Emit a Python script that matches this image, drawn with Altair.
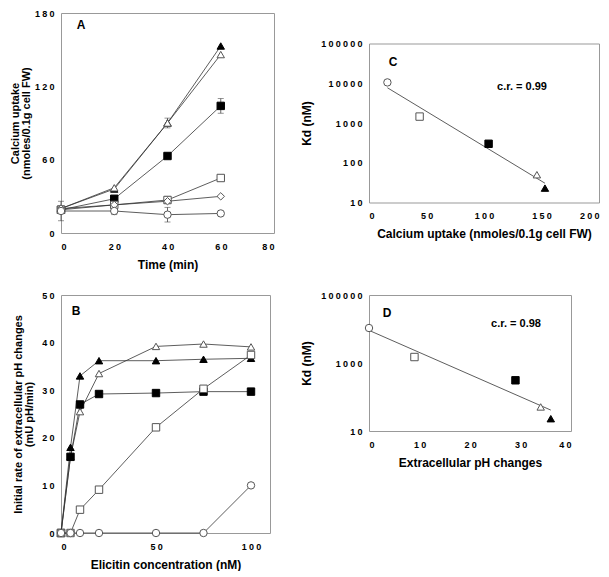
import altair as alt
import pandas as pd

FONT = "Liberation Sans"
LINE = "#333333"
OPEN_STROKE = "#555555"

# ---------------- data ----------------
# marker ids
series_ids = ["ftri", "otri", "fsq", "osq", "odia", "ocirc"]
series_shapes = ["triangle-up", "triangle-up", "square", "square", "diamond", "circle"]
series_fills = ["black", "white", "black", "white", "white", "white"]
series_strokes = ["black", OPEN_STROKE, "black", OPEN_STROKE, OPEN_STROKE, OPEN_STROKE]
series_sizes = [55, 55, 50, 50, 40, 45]

# Panel A: calcium uptake vs time
time_min = [0, 20, 40, 60]
a_values = {
    "ftri": [20, 36, 90, 153],
    "otri": [20, 37, 90, 146],
    "fsq": [19, 28, 63, 104],
    "osq": [19, 23, 27, 45],
    "odia": [20, 23, 26, 30],
    "ocirc": [18, 18, 15, 16],
}
a_errors = {
    "ftri": [0, 0, 0, 0],
    "otri": [0, 0, 4, 0],
    "fsq": [0, 2, 0, 6],
    "osq": [0, 0, 3, 0],
    "odia": [0, 0, 0, 0],
    "ocirc": [8, 3, 6, 0],
}

# Panel B: pH change rate vs elicitin concentration
conc_nm = [0, 5, 10, 20, 50, 75, 100]
b_values = {
    "ftri": [0, 18, 33, 36.2, 36.2, 36.5, 36.7],
    "otri": [0, 16, 25.5, 33.5, 39.2, 39.7, 39.1],
    "fsq": [0, 16, 27, 29.2, 29.4, 29.7, 29.7],
    "osq": [0, 0, 4.9, 9.1, 22.2, 30.3, 37.4],
    "ocirc": [0, 0, 0, 0, 0, 0, 10],
}

# Panel C: Kd vs calcium uptake
c_series = ["ocirc", "osq", "fsq", "otri", "ftri"]
c_uptake = [16, 44, 104, 146, 153]
c_kd = [10500, 1450, 300, 50, 23]

# Panel D: Kd vs extracellular pH changes
d_series = ["ocirc", "osq", "fsq", "otri", "ftri"]
d_ph = [0, 9, 29, 34, 36]
d_kd = [10700, 1500, 310, 51, 23]

# ---------------- frames ----------------
rowsA = []
for s in series_ids:
    for t, v, e in zip(time_min, a_values[s], a_errors[s]):
        rowsA.append({"x": t, "y": v, "err": e, "series": s})
dfA = pd.DataFrame(rowsA)

rowsB = []
for s in ["ftri", "otri", "fsq", "osq", "ocirc"]:
    for c, v in zip(conc_nm, b_values[s]):
        rowsB.append({"x": c, "y": v, "series": s})
dfB = pd.DataFrame(rowsB)

dfC = pd.DataFrame({"x": c_uptake, "y": c_kd, "series": c_series})
dfD = pd.DataFrame({"x": d_ph, "y": d_kd, "series": d_series})

LEXPR = "replace(format(datum.value, 'd'), regexp('([0-9])(?=[0-9])', 'g'), '$1\u2005')"

shape_enc = alt.Shape("series:N", scale=alt.Scale(domain=series_ids, range=series_shapes), legend=None)
fill_enc = alt.Fill("series:N", scale=alt.Scale(domain=series_ids, range=series_fills), legend=None)
stroke_enc = alt.Stroke("series:N", scale=alt.Scale(domain=series_ids, range=series_strokes), legend=None)
size_enc = alt.Size("series:N", scale=alt.Scale(domain=series_ids, range=series_sizes), legend=None)


def xaxis(values, title):
    return alt.Axis(values=values, title=title, labelExpr=LEXPR, labelPadding=9,
                    titlePadding=8)


def yaxis(values, title, tpad, tsize=12):
    return alt.Axis(values=values, title=title, labelExpr=LEXPR, labelPadding=7,
                    titlePadding=tpad, titleLineHeight=11, titleFontSize=tsize)


def points(base, X, Y):
    return base.mark_point(opacity=1, fillOpacity=1, strokeWidth=1).encode(
        x=X, y=Y, shape=shape_enc, fill=fill_enc, stroke=stroke_enc, size=size_enc)


def panel_label(text, px, py):
    return alt.Chart(pd.DataFrame({"t": [text]})).mark_text(
        font=FONT, fontWeight="bold", fontSize=12, color="black").encode(
        text="t:N", x=alt.value(px), y=alt.value(py))


def cr_label(text, px, py):
    return alt.Chart(pd.DataFrame({"t": [text]})).mark_text(
        font=FONT, fontWeight="bold", fontSize=11, color="black").encode(
        text="t:N", x=alt.value(px), y=alt.value(py))


# ---------------- Panel A ----------------
axAx = xaxis([0, 20, 40, 60, 80], "Time (min)")
axAy = yaxis([0, 60, 120, 180], ["Calcium uptake", "(nmoles/0.1g cell FW)"], 3, 11)
scAx = alt.Scale(domain=[0, 80], nice=False)
scAy = alt.Scale(domain=[0, 180], nice=False)
XA = alt.X("x:Q", scale=scAx, axis=axAx)
YA = alt.Y("y:Q", scale=scAy, axis=axAy)
baseA = alt.Chart(dfA)
linesA = baseA.mark_line(color=LINE, strokeWidth=0.8).encode(
    x=XA, y=YA, detail="series:N", order="x:Q")
errA = baseA.transform_filter("datum.err > 0").transform_calculate(
    lo="datum.y - datum.err", hi="datum.y + datum.err")
rulesA = errA.mark_rule(color="#444444", strokeWidth=0.8).encode(
    x=XA, y=alt.Y("lo:Q", scale=scAy, axis=axAy), y2="hi:Q")
capLoA = errA.mark_tick(orient="horizontal", size=6, thickness=0.8, color="#444444").encode(
    x=XA, y=alt.Y("lo:Q", scale=scAy, axis=axAy))
capHiA = errA.mark_tick(orient="horizontal", size=6, thickness=0.8, color="#444444").encode(
    x=XA, y=alt.Y("hi:Q", scale=scAy, axis=axAy))
panelA = alt.layer(linesA, rulesA, capLoA, capHiA, points(baseA, XA, YA),
                   panel_label("A", 20, 12)).properties(width=213, height=220)

# ---------------- Panel B ----------------
XB = alt.X("x:Q", scale=alt.Scale(domain=[0, 110], nice=False),
           axis=xaxis([0, 50, 100], "Elicitin concentration (nM)"))
YB = alt.Y("y:Q", scale=alt.Scale(domain=[0, 50], nice=False),
           axis=yaxis([0, 10, 20, 30, 40, 50],
                      ["Initial rate of extracellular pH changes", "(mU pH/min)"], 7, 11))
baseB = alt.Chart(dfB)
linesB = baseB.mark_line(color=LINE, strokeWidth=0.8).encode(
    x=XB, y=YB, detail="series:N", order="x:Q")
panelB = alt.layer(linesB, points(baseB, XB, YB),
                   panel_label("B", 15, 16)).properties(width=209, height=238)

# ---------------- Panel C ----------------
XC = alt.X("x:Q", scale=alt.Scale(domain=[0, 200], nice=False),
           axis=xaxis([0, 50, 100, 150, 200], "Calcium uptake (nmoles/0.1g cell FW)"))
YC = alt.Y("y:Q", scale=alt.Scale(type="log", domain=[10, 100000], nice=False),
           axis=yaxis([10, 100, 1000, 10000, 100000], "Kd (nM)", 7))
baseC = alt.Chart(dfC)
fitC = baseC.transform_calculate(ly="log(datum.y) / LN10").transform_regression(
    on="x", regression="ly").transform_calculate(y="pow(10, datum.ly)").mark_line(
    color=LINE, strokeWidth=0.8).encode(x=XC, y=YC)
panelC = alt.layer(fitC, points(baseC, XC, YC), panel_label("C", 24, 18),
                   cr_label("c.r.  =  0.99", 153, 43)).properties(width=230, height=159)

# ---------------- Panel D ----------------
XD = alt.X("x:Q", scale=alt.Scale(domain=[0, 40], nice=False),
           axis=xaxis([0, 10, 20, 30, 40], "Extracellular pH changes"))
YD = alt.Y("y:Q", scale=alt.Scale(type="log", domain=[10, 100000], nice=False),
           axis=yaxis([10, 1000, 100000], "Kd (nM)", 7))
baseD = alt.Chart(dfD)
fitD = baseD.transform_calculate(ly="log(datum.y) / LN10").transform_regression(
    on="x", regression="ly").transform_calculate(y="pow(10, datum.ly)").mark_line(
    color=LINE, strokeWidth=0.8).encode(x=XD, y=YD)
panelD = alt.layer(fitD, points(baseD, XD, YD), panel_label("D", 18, 18),
                   cr_label("c.r.  =  0.98", 147, 29)).properties(width=202, height=136)

chart = alt.concat(
    panelA, panelC, panelB, panelD,
    columns=2,
    spacing=alt.RowColnumber(row=62, column=95),
    bounds="flush",
    center=alt.RowColboolean(row=True, column=False),
).properties(
    padding=0,
).configure_axis(
    domain=False, ticks=False, grid=False,
    labelFont=FONT, labelFontWeight="bold", labelFontSize=9, labelColor="black",
    titleFont=FONT, titleFontWeight="bold", titleFontSize=12, titleColor="black",
).configure_view(
    stroke="#999999", strokeWidth=1,
)

chart.save("out.html", embed_options={"renderer": "svg", "actions": False})
